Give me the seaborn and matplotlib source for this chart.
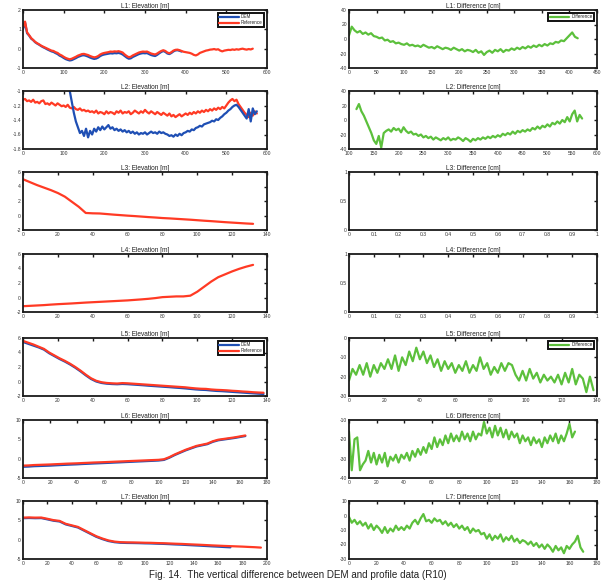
import numpy as np
import pandas as pd
import matplotlib
matplotlib.use("Agg")
import matplotlib.pyplot as plt
import seaborn as sns
from matplotlib.ticker import FormatStrFormatter

sns.set_style("white")
plt.rcParams['font.family'] = ['Liberation Sans', 'DejaVu Sans']
plt.rcParams['axes.unicode_minus'] = False

# ---------------- data ----------------
L1_ref = [1.1, 1.4, 0.85, 0.7, 0.55, 0.45, 0.35, 0.28, 0.22, 0.15,
          0.1, 0.05, 0.0, -0.05, -0.1, -0.12, -0.18, -0.22, -0.3, -0.35,
          -0.42, -0.48, -0.52, -0.55, -0.52, -0.47, -0.42, -0.36, -0.32, -0.28,
          -0.27, -0.3, -0.33, -0.38, -0.42, -0.45, -0.43, -0.38, -0.3, -0.25,
          -0.22, -0.2, -0.18, -0.15, -0.16, -0.14, -0.15, -0.13, -0.16, -0.2,
          -0.3, -0.38, -0.44, -0.42, -0.35, -0.3, -0.25, -0.2, -0.17, -0.15,
          -0.16, -0.15, -0.2, -0.25, -0.28, -0.3, -0.25, -0.18, -0.12, -0.08,
          -0.12, -0.2, -0.24, -0.18, -0.1, -0.06, -0.05, -0.08, -0.12, -0.16,
          -0.18, -0.2, -0.22, -0.26, -0.32, -0.35, -0.3, -0.22, -0.18, -0.14,
          -0.1, -0.08, -0.05, -0.04, -0.02, -0.05, -0.03, -0.1, -0.14, -0.1,
          -0.08, -0.06, -0.07, -0.04, -0.06, -0.03, -0.05, -0.02, 0.0, -0.03,
          -0.05, -0.02, -0.04, 0.0]
L1_dem = [1.0, 1.35, 0.8, 0.68, 0.52, 0.44, 0.33, 0.26, 0.2, 0.13,
          0.07, 0.02, -0.04, -0.09, -0.14, -0.17, -0.23, -0.28, -0.36, -0.41,
          -0.48, -0.54, -0.58, -0.61, -0.59, -0.54, -0.49, -0.43, -0.39, -0.35,
          -0.34, -0.37, -0.41, -0.46, -0.5, -0.53, -0.51, -0.46, -0.38, -0.33,
          -0.3, -0.28, -0.26, -0.24, -0.25, -0.23, -0.24, -0.22, -0.25, -0.3,
          -0.38, -0.46, -0.52, -0.5, -0.43, -0.38, -0.33, -0.28, -0.25, -0.23,
          -0.24, -0.23, -0.28, -0.33, -0.36, -0.38, -0.32, -0.24, -0.17, -0.12,
          -0.17, -0.25, -0.28, -0.22, -0.14, -0.09, -0.08, -0.11, -0.15]
L1_diff = [5, 17, 12, 9, 11, 7, 9, 6, 8, 4,
           3, 1, 2, -2, -1, -4, -3, -6, -5, -7,
           -8, -6, -9, -8, -10, -9, -11, -8, -10, -12,
           -11, -13, -10, -12, -14, -12, -13, -15, -12, -14,
           -16, -14, -17, -15, -16, -18, -15, -19, -17, -22,
           -18, -16, -19, -15, -17, -14, -18, -15, -16, -13,
           -15, -12, -14, -11, -13, -10, -12, -9, -11, -8,
           -10, -7, -9, -6, -7, -4, -5, -2, -3, 1,
           5, 9, 3, 1]

L2_ref = [-1.12, -1.11, -1.14, -1.13, -1.15, -1.12, -1.16, -1.15, -1.17, -1.14,
          -1.13, -1.18, -1.17, -1.19, -1.16, -1.18, -1.2, -1.17, -1.19, -1.21,
          -1.2, -1.22, -1.19, -1.23, -1.24, -1.22, -1.25, -1.26, -1.24, -1.27,
          -1.26, -1.28, -1.27, -1.29, -1.28, -1.3, -1.27, -1.31, -1.29, -1.3,
          -1.32, -1.28, -1.31, -1.29, -1.3, -1.32, -1.28, -1.3, -1.27, -1.31,
          -1.29, -1.3, -1.28, -1.32, -1.3, -1.27, -1.29, -1.31, -1.28, -1.3,
          -1.26, -1.29, -1.31, -1.28, -1.3, -1.32, -1.29, -1.31, -1.33, -1.3,
          -1.32, -1.34, -1.31, -1.35, -1.33, -1.36, -1.34, -1.32, -1.35, -1.33,
          -1.31, -1.33, -1.3, -1.32, -1.29, -1.31, -1.28, -1.3, -1.27, -1.29,
          -1.26, -1.28, -1.25, -1.27, -1.24, -1.26, -1.23, -1.25, -1.22, -1.24,
          -1.2, -1.16, -1.13, -1.11, -1.14, -1.12, -1.18, -1.22, -1.26, -1.3,
          -1.33, -1.36, -1.3, -1.34, -1.28, -1.31]
L2_dem = [-1.0, -1.15, -1.3, -1.42, -1.5, -1.58, -1.55, -1.62, -1.52, -1.64,
          -1.55, -1.6, -1.52, -1.56, -1.5, -1.54, -1.49, -1.53, -1.5, -1.47,
          -1.52, -1.5, -1.54, -1.52, -1.55, -1.53, -1.56, -1.54, -1.57, -1.55,
          -1.58, -1.56, -1.59, -1.57, -1.6, -1.58, -1.59, -1.57, -1.6, -1.58,
          -1.56, -1.58, -1.57, -1.59, -1.56, -1.58, -1.57, -1.59, -1.6, -1.62,
          -1.61, -1.63, -1.6, -1.62, -1.59, -1.61, -1.58, -1.57, -1.55, -1.56,
          -1.53, -1.54, -1.51, -1.5, -1.48, -1.49, -1.46, -1.45, -1.44, -1.43,
          -1.41, -1.42, -1.39, -1.4, -1.37, -1.35, -1.32, -1.3, -1.27, -1.25,
          -1.22, -1.2, -1.19, -1.22, -1.26, -1.3, -1.34, -1.38, -1.25, -1.42,
          -1.24, -1.32, -1.28]
L2_dem_start = 115
L2_diff = [15, 22, 12, 6, -2, -10, -18, -28, -33, -22,
           -38, -18, -15, -13, -16, -11, -14, -12, -17, -10,
           -15, -18, -16, -20, -19, -22, -20, -24, -22, -25,
           -23, -27, -24, -26, -28, -25, -27, -24, -28, -26,
           -27, -24, -26, -29, -25, -27, -30, -26, -28, -25,
           -27, -24, -26, -23, -25, -22, -24, -21, -23, -19,
           -21, -18, -20, -16, -19, -15, -17, -14, -16, -13,
           -15, -11, -13, -9, -12, -8, -10, -6, -9, -4,
           -6, -2, -5, 0, -3, 4, -2, 8, 13, -2,
           7, 2]
L2_diff_start = 115

L3_ref = [5.0, 4.6, 4.2, 3.85, 3.5, 3.1, 2.6, 1.9, 1.2, 0.35,
          0.3, 0.28, 0.2, 0.12, 0.05, -0.02, -0.08, -0.15, -0.22, -0.28,
          -0.35, -0.4, -0.46, -0.52, -0.58, -0.65, -0.72, -0.78, -0.85, -0.92,
          -0.98, -1.04, -1.1, -1.15]
L4_ref = [-1.2, -1.15, -1.1, -1.05, -0.98, -0.92, -0.87, -0.82, -0.76, -0.7,
          -0.65, -0.6, -0.55, -0.5, -0.45, -0.4, -0.33, -0.26, -0.18, -0.08,
          0.05, 0.1, 0.15, 0.15, 0.25, 0.8, 1.5, 2.2, 2.8, 3.2,
          3.6, 3.95, 4.25, 4.5]

L5_ref = [5.6, 5.35, 5.1, 4.8, 4.5, 4.0, 3.6, 3.2, 2.85, 2.45,
          2.0, 1.5, 0.95, 0.45, 0.1, -0.1, -0.2, -0.25, -0.28, -0.22,
          -0.25, -0.3, -0.35, -0.4, -0.45, -0.5, -0.55, -0.6, -0.65, -0.7,
          -0.75, -0.8, -0.88, -0.95, -1.0, -1.02, -1.1, -1.15, -1.18, -1.22,
          -1.28, -1.32, -1.38, -1.42, -1.48, -1.52, -1.55]
L5_dem = [5.45, 5.2, 4.95, 4.7, 4.4, 3.9, 3.5, 3.1, 2.75, 2.35,
          1.9, 1.4, 0.85, 0.35, 0.0, -0.2, -0.3, -0.35, -0.38, -0.34,
          -0.37, -0.42, -0.47, -0.52, -0.58, -0.63, -0.68, -0.73, -0.78, -0.84,
          -0.89, -0.95, -1.02, -1.09, -1.14, -1.17, -1.24, -1.3, -1.33, -1.38,
          -1.43, -1.48, -1.53, -1.58, -1.63, -1.68, -1.72]
L5_diff = [-22, -16, -19, -14, -19, -13, -20, -14, -18, -13,
           -16, -11, -16, -9, -17, -10, -14, -7, -12, -5,
           -11, -7, -13, -9, -15, -11, -17, -12, -16, -13,
           -18, -14, -17, -12, -18, -14, -17, -10, -16, -13,
           -19, -15, -18, -13, -17, -13, -14, -19, -22, -17,
           -22, -16, -21, -18, -23, -19, -22, -20, -23, -19,
           -24, -18, -23, -16, -24, -19, -21, -28, -20, -27]

L6_ref = [-1.8, -1.75, -1.65, -1.6, -1.55, -1.5, -1.43, -1.37, -1.3, -1.25,
          -1.2, -1.13, -1.07, -1.0, -0.95, -0.9, -0.84, -0.78, -0.72, -0.66,
          -0.6, -0.54, -0.48, -0.42, -0.36, -0.3, -0.15, 0.4, 1.1, 1.7,
          2.3, 2.8, 3.3, 3.6, 3.9, 4.5, 4.9, 5.1, 5.3, 5.5,
          5.75, 6.0]
L6_dem = [-2.1, -2.05, -1.95, -1.9, -1.85, -1.8, -1.72, -1.65, -1.58, -1.52,
          -1.46, -1.38, -1.32, -1.25, -1.19, -1.13, -1.07, -1.0, -0.94, -0.87,
          -0.81, -0.74, -0.68, -0.61, -0.55, -0.48, -0.32, 0.25, 0.95, 1.55,
          2.15, 2.65, 3.15, 3.45, 3.75, 4.35, 4.75, 4.95, 5.15, 5.35,
          5.6, 5.85]
L6_diff = [-16, -36, -20, -19, -36, -33, -31, -26, -32, -27,
           -33, -28, -32, -27, -34, -29, -31, -28, -32, -28,
           -30, -27, -31, -26, -29, -25, -28, -24, -27, -22,
           -25, -19, -24, -20, -23, -18, -22, -17, -21, -18,
           -21, -16, -20, -17, -21, -16, -20, -17, -18, -11,
           -17, -14, -19, -13, -18, -14, -19, -15, -20, -16,
           -19, -17, -22, -18, -21, -19, -23, -19, -22, -20,
           -24, -19, -22, -18, -21, -17, -22, -18, -21, -17,
           -12, -19, -16]

L7_ref = [5.7, 5.75, 5.7, 5.72, 5.4, 5.05, 4.85, 4.1, 3.7, 3.3,
          2.5, 1.7, 0.9, 0.3, -0.2, -0.5, -0.65, -0.7, -0.72, -0.75,
          -0.8, -0.82, -0.88, -0.92, -0.98, -1.05, -1.1, -1.18, -1.25, -1.32,
          -1.4, -1.48, -1.55, -1.62, -1.68, -1.74, -1.8, -1.88, -1.95, -2.05]
L7_dem = [5.55, 5.6, 5.55, 5.58, 5.25, 4.9, 4.7, 3.95, 3.55, 3.15,
          2.35, 1.55, 0.75, 0.15, -0.35, -0.65, -0.8, -0.85, -0.87, -0.9,
          -0.95, -0.98, -1.04, -1.09, -1.16, -1.24, -1.3, -1.39, -1.47, -1.55,
          -1.64, -1.73, -1.81, -1.9, -1.98]
L7_diff = [-1, -5, -3, -6, -4, -7, -5, -9, -6, -10,
           -7, -9, -12, -8, -12, -9, -11, -7, -10, -8,
           -10, -7, -9, -5, -3, -6, -2, 1, -4, -3,
           -5, -2, -4, -3, -6, -4, -7, -5, -8, -6,
           -9, -7, -10, -8, -12, -9, -11, -10, -13, -12,
           -16, -13, -17, -14, -16, -13, -18, -15, -17, -14,
           -18, -16, -19, -17, -18, -20, -18, -21, -19, -22,
           -20, -23, -20, -22, -25, -21, -24, -22, -26, -21,
           -23, -20, -18, -14, -22, -25]

# sampling steps along the profile (m)
steps = {"L1": 5, "L2": 5, "L3": 4, "L4": 4, "L5": 3, "L6": 4, "L7": 5}
diff_steps = {"L1": 5, "L2": 5, "L5": 2, "L6": 2, "L7": 2}

# ---------------- style ----------------
BLUE = '#1f4fb4'
RED = '#ff3a24'
GREEN = '#5cc03c'
LW = 1.6
W, H = 607, 584
fig = plt.figure(figsize=(W / 100, H / 100), dpi=100)

row_tops = [10, 91, 172, 254, 338, 420, 501]
ax_h = 58
left_x, left_w = 23, 244
right_x, right_w = 349, 248


def make_ax(col, row):
    x0, w = (left_x, left_w) if col == 0 else (right_x, right_w)
    top = row_tops[row]
    ax = fig.add_axes([x0 / W, 1 - (top + ax_h) / H, w / W, ax_h / H])
    for s in ax.spines.values():
        s.set_linewidth(1.3)
        s.set_color('#1a1a1a')
    ax.tick_params(direction='in', top=True, right=True, length=2.2, width=1.0,
                   labelsize=3.6, pad=1.5, colors='#1a1a1a', labelcolor='#333333')
    return ax


def finish(ax, title, xlim, xticks, ylim, yticks):
    ax.set_xlim(*xlim)
    ax.set_ylim(*ylim)
    ax.set_xticks(xticks)
    ax.set_yticks(yticks)
    ax.xaxis.set_major_formatter(FormatStrFormatter('%g'))
    ax.yaxis.set_major_formatter(FormatStrFormatter('%g'))
    ax.set_title(title, fontsize=4.7, pad=1.5, color='#222222')
    ax.set_xlabel('')
    ax.set_ylabel('')
    ax.grid(False)


def line(ax, y, step, color, start=0):
    df = pd.DataFrame({"x": start + np.arange(len(y)) * step, "y": y})
    sns.lineplot(data=df, x="x", y="y", ax=ax, color=color, lw=LW,
                 estimator=None, sort=False, legend=False)


def legend(ax, labels, colors):
    from matplotlib.lines import Line2D
    handles = [Line2D([0], [0], color=c, lw=LW) for c in colors]
    lg = ax.legend(handles, labels, loc='upper right', fontsize=3.3, frameon=True,
                   fancybox=False, edgecolor='#111111', framealpha=1,
                   handlelength=4.2, handletextpad=0.5, borderpad=0.35,
                   labelspacing=0.2, borderaxespad=0.6)
    lg.get_frame().set_linewidth(1.4)


# Row 1: L1
ax = make_ax(0, 0)
line(ax, L1_dem, steps["L1"], BLUE)
line(ax, L1_ref, steps["L1"], RED)
legend(ax, ['DEM', 'Reference'], [BLUE, RED])
finish(ax, 'L1: Elevation [m]', (0, 600), range(0, 601, 100), (-1, 2), [-1, 0, 1, 2])

ax = make_ax(1, 0)
line(ax, L1_diff, diff_steps["L1"], GREEN)
legend(ax, ['Difference'], [GREEN])
finish(ax, 'L1: Difference [cm]', (0, 450), range(0, 451, 50), (-40, 40), range(-40, 41, 20))

# Row 2: L2
ax = make_ax(0, 1)
line(ax, L2_ref, steps["L2"], RED)
line(ax, L2_dem, steps["L2"], BLUE, start=L2_dem_start)
finish(ax, 'L2: Elevation [m]', (0, 600), range(0, 601, 100), (-1.8, -1.0),
       [-1.8, -1.6, -1.4, -1.2, -1.0])

ax = make_ax(1, 1)
line(ax, L2_diff, diff_steps["L2"], GREEN, start=L2_diff_start)
finish(ax, 'L2: Difference [cm]', (100, 600), range(100, 601, 50), (-40, 40), range(-40, 41, 20))

# Row 3/4: L3, L4
ax = make_ax(0, 2)
line(ax, L3_ref, steps["L3"], RED)
finish(ax, 'L3: Elevation [m]', (0, 140), range(0, 141, 20), (-2, 6), range(-2, 7, 2))
ax = make_ax(1, 2)
finish(ax, 'L3: Difference [cm]', (0, 1), np.round(np.arange(0, 1.01, 0.1), 1), (0, 1), [0, 0.5, 1])

ax = make_ax(0, 3)
line(ax, L4_ref, steps["L4"], RED)
finish(ax, 'L4: Elevation [m]', (0, 140), range(0, 141, 20), (-2, 6), range(-2, 7, 2))
ax = make_ax(1, 3)
finish(ax, 'L4: Difference [cm]', (0, 1), np.round(np.arange(0, 1.01, 0.1), 1), (0, 1), [0, 0.5, 1])

# Row 5: L5
ax = make_ax(0, 4)
line(ax, L5_dem, steps["L5"], BLUE)
line(ax, L5_ref, steps["L5"], RED)
legend(ax, ['DEM', 'Reference'], [BLUE, RED])
finish(ax, 'L5: Elevation [m]', (0, 140), range(0, 141, 20), (-2, 6), range(-2, 7, 2))
ax = make_ax(1, 4)
line(ax, L5_diff, diff_steps["L5"], GREEN)
legend(ax, ['Difference'], [GREEN])
finish(ax, 'L5: Difference [cm]', (0, 140), range(0, 141, 20), (-30, 0), range(-30, 1, 10))

# Row 6: L6
ax = make_ax(0, 5)
line(ax, L6_dem, steps["L6"], BLUE)
line(ax, L6_ref, steps["L6"], RED)
finish(ax, 'L6: Elevation [m]', (0, 180), range(0, 181, 20), (-5, 10), range(-5, 11, 5))
ax = make_ax(1, 5)
line(ax, L6_diff, diff_steps["L6"], GREEN)
finish(ax, 'L6: Difference [cm]', (0, 180), range(0, 181, 20), (-40, -10), range(-40, -9, 10))

# Row 7: L7
ax = make_ax(0, 6)
line(ax, L7_dem, steps["L7"], BLUE)
line(ax, L7_ref, steps["L7"], RED)
finish(ax, 'L7: Elevation [m]', (0, 200), range(0, 201, 20), (-5, 10), range(-5, 11, 5))
ax = make_ax(1, 6)
line(ax, L7_diff, diff_steps["L7"], GREEN)
finish(ax, 'L7: Difference [cm]', (0, 180), range(0, 181, 20), (-30, 10), range(-30, 11, 10))

fig.text(298 / W, 1 - 575 / H, 'Fig. 14.  The vertical difference between DEM and profile data (R10)',
         ha='center', va='center', fontsize=7.1, color='#222222')

fig.savefig('out.png', dpi=100)
